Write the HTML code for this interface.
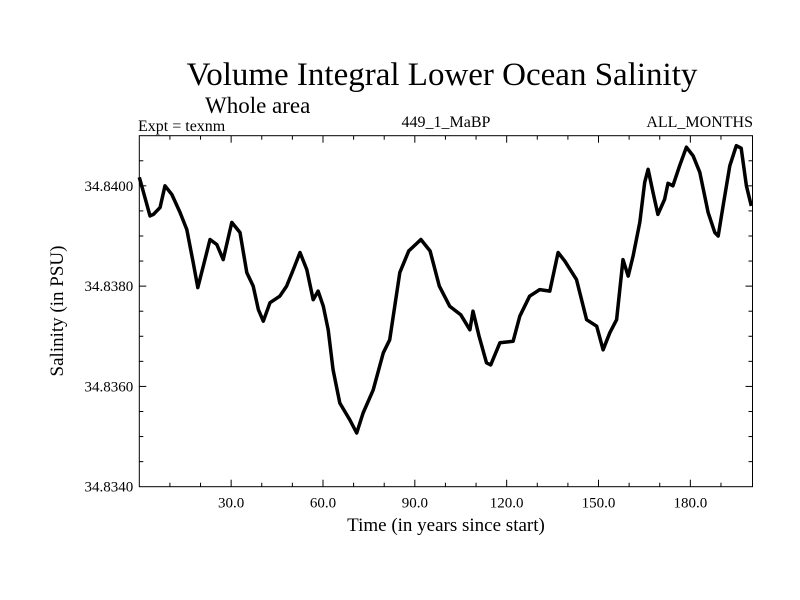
<!DOCTYPE html>
<html><head><meta charset="utf-8"><style>
body{margin:0;background:#fff}
svg{display:block;font-family:"Liberation Serif",serif}
</style></head><body>
<svg id="chart" width="800" height="600">
<rect width="800" height="600" fill="#fff"/>
<text x="442" y="85" font-size="33" text-anchor="middle">Volume Integral Lower Ocean Salinity</text>
<text x="205" y="113" font-size="23">Whole area</text>
<text x="138" y="131" font-size="16">Expt = texnm</text>
<text x="446" y="127" font-size="16" text-anchor="middle">449_1_MaBP</text>
<text x="753" y="127" font-size="16" text-anchor="end">ALL_MONTHS</text>
<text transform="translate(63,311) rotate(-90)" font-size="19" text-anchor="middle">Salinity (in PSU)</text>
<text x="446" y="531" font-size="19" text-anchor="middle">Time (in years since start)</text>
<g id="axes"></g>
<g id="series"></g>
</svg>
<script>
const years=[0,0.8,3.5,4.6,6.8,8.4,10.6,13.3,15.5,17.6,19.1,20.9,23.1,25.3,27.4,30.2,32.9,35.1,37.2,38.9,40.5,42.7,45.9,48.1,50.3,52.5,54.7,56.8,58.4,60.1,61.7,63.3,65.5,68.8,71,73.1,76.4,79.7,81.8,85.1,88,92,95,98,101.4,105,108,109,111,113.4,114.8,117.8,122.1,124.3,127.5,130.8,134.1,136.8,139,142.8,146.1,149.4,151.5,153.7,155.9,158,159.7,161.3,163.5,165.1,166.2,167.8,169.4,171.6,172.7,174.3,176.5,178.7,180.9,183.1,185.8,188,189.1,190.7,192.9,195,196.6,198.3,199.9];
const salinity=[34.84017,34.84000,34.83940,34.83943,34.83957,34.84000,34.83983,34.83947,34.83913,34.83847,34.83797,34.83840,34.83893,34.83883,34.83853,34.83927,34.83907,34.83827,34.83800,34.83753,34.83730,34.83767,34.83780,34.83800,34.83833,34.83867,34.83833,34.83773,34.83790,34.83760,34.83713,34.83633,34.83567,34.83533,34.83507,34.83547,34.83593,34.83667,34.83693,34.83827,34.83870,34.83893,34.83870,34.83800,34.83760,34.83743,34.83713,34.83750,34.83700,34.83647,34.83643,34.83687,34.83690,34.83740,34.83780,34.83793,34.83790,34.83867,34.83850,34.83813,34.83733,34.83720,34.83673,34.83707,34.83733,34.83853,34.83820,34.83860,34.83927,34.84007,34.84033,34.83987,34.83943,34.83973,34.84005,34.84000,34.84040,34.84077,34.84060,34.84027,34.83947,34.83907,34.83900,34.83960,34.84040,34.84080,34.84075,34.84000,34.83960];
const xTicks=[30,60,90,120,150,180];
const xTickLabels=["30.0","60.0","90.0","120.0","150.0","180.0"];
const yTicks=[34.834,34.836,34.838,34.840];
const yTickLabels=["34.8340","34.8360","34.8380","34.8400"];
const L=139.3,R=752.5,T=135.7,B=486.7,X0=0,X1=200.3,Y0=34.834,Y1=34.841;
const xs=v=>L+(v-X0)/(X1-X0)*(R-L);
const ys=v=>B-(v-Y0)/(Y1-Y0)*(B-T);
const NS="http://www.w3.org/2000/svg";
const axes=document.getElementById('axes');
function mk(tag,attrs,parent){const e=document.createElementNS(NS,tag);for(const k in attrs)e.setAttribute(k,attrs[k]);parent.appendChild(e);return e;}
const frame=mk('rect',{x:L,y:T,width:R-L,height:B-T,fill:'none',stroke:'#000','stroke-width':1},axes);


for(let v=10;v<200;v+=10){const major=v%30===0;const len=major?7:4;
 const t1=mk('line',{x1:xs(v),x2:xs(v),y1:B,y2:B-len,stroke:'#000'},axes);
 
 
 const t2=mk('line',{x1:xs(v),x2:xs(v),y1:T,y2:T+len,stroke:'#000'},axes);
 
 }
for(let i=1;i<14;i++){const v=Y0+i*0.0005;const major=i%4===0;const len=major?7:4;
 const t1=mk('line',{x1:L,x2:L+len,y1:ys(v),y2:ys(v),stroke:'#000'},axes);
 
 
 const t2=mk('line',{x1:R,x2:R-len,y1:ys(v),y2:ys(v),stroke:'#000'},axes);
 
 }
xTicks.forEach((v,i)=>{const t=mk('text',{x:xs(v),y:B+21,'font-size':15,'text-anchor':'middle'},axes);t.textContent=xTickLabels[i];
 
 });
yTicks.forEach((v,i)=>{const t=mk('text',{x:L-6,y:ys(v)+5,'font-size':15,'text-anchor':'end'},axes);t.textContent=yTickLabels[i];
 
 });
const d=years.map((y,i)=>(i?'L':'M')+xs(y).toFixed(1)+','+ys(salinity[i]).toFixed(1)).join('');
const p=mk('path',{d:d,fill:'none',stroke:'#000','stroke-width':3.5,'stroke-linejoin':'round'},document.getElementById('series'));


</script>
</body></html>
